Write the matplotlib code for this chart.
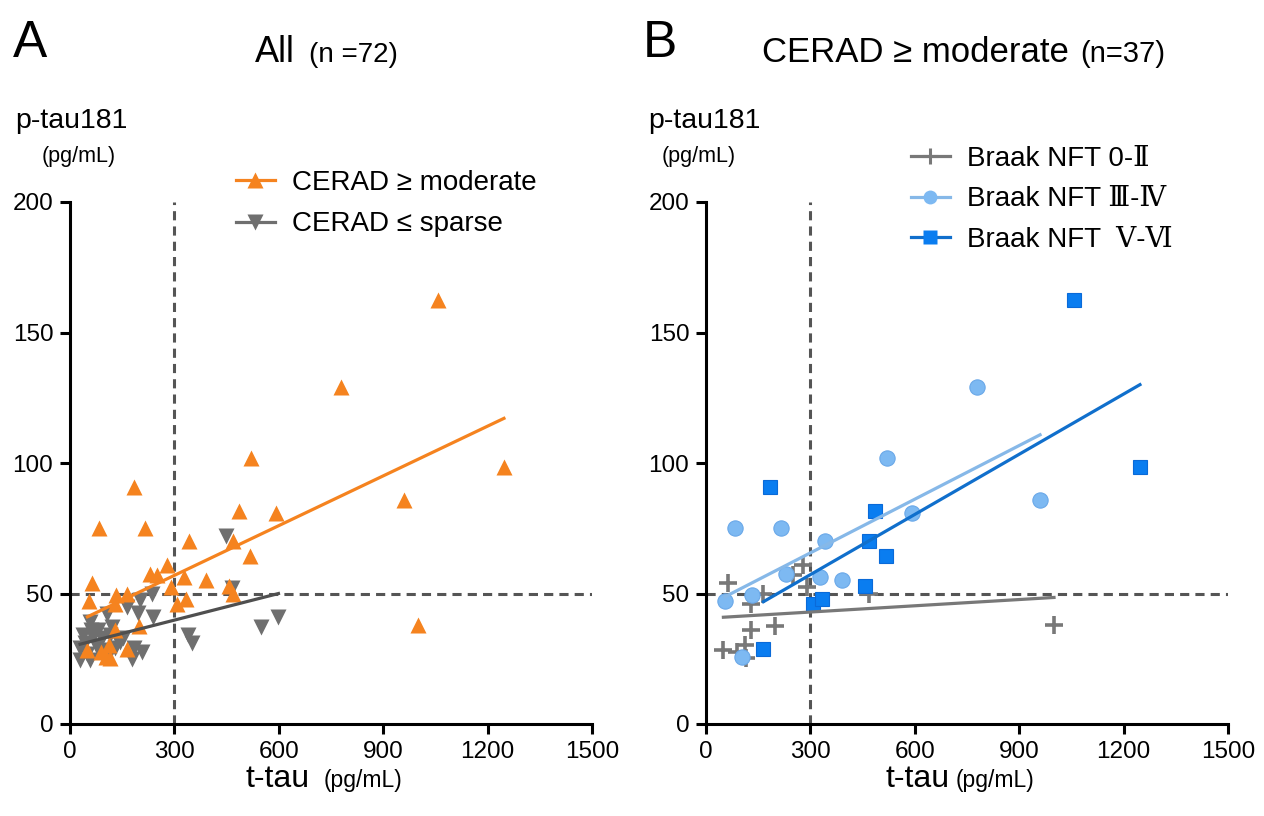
import numpy as np
import matplotlib.pyplot as plt
from matplotlib.lines import Line2D

plt.rcParams['font.family'] = ['Liberation Sans', 'DejaVu Serif']

# CERAD >= moderate, split by Braak NFT stage (t-tau, p-tau181 in pg/mL)
b02_x = [64, 129, 165, 280, 251, 289, 467, 129, 198, 50, 88, 112, 115, 1000]
b02_y = [54, 46, 50, 61, 57, 52.6, 50, 36, 37.5, 28.4, 27.7, 30.3, 25.2, 38]

b34_x = [55, 83, 103, 131, 215, 230, 328, 342, 390, 519, 591, 778, 960]
b34_y = [47, 75, 25.5, 49.5, 75, 57.5, 56.5, 70, 55, 102, 81, 129, 86]

b56_x = [165, 184, 308, 332, 457, 469, 486, 517, 1057, 1247]
b56_y = [28.6, 90.7, 46, 47.8, 52.9, 70.2, 81.6, 64.4, 162.5, 98.4]

# CERAD <= sparse
sparse_x = [448, 465, 599, 548, 340, 350, 235, 201, 163, 196, 239, 105, 57, 38,
            67, 91, 115, 144, 29, 77, 96, 29, 57, 177, 206,
            139, 153, 43, 60, 120, 80, 130, 185, 48, 110]
sparse_y = [72, 52, 41, 37, 34, 31, 50, 47.5, 45, 42.4, 41, 42, 39, 34,
            33.5, 33, 34, 31.5, 29, 29.6, 28.4, 24.5, 24.5, 25, 27.7,
            32, 33, 31, 36, 37, 36, 29, 29, 27, 26]

mod_x = b02_x + b34_x + b56_x
mod_y = b02_y + b34_y + b56_y

xticks = [0, 300, 600, 900, 1200, 1500]
yticks = [0, 50, 100, 150, 200]

orange = '#F5831F'
grey_tri = '#6F6F6F'
grey_lineA = '#4F4F4F'
grey_cross = '#787878'
lblue = '#7DB9F2'
lblue_line = '#86B8E8'
blue = '#0A7DF0'
blue_line = '#106FCC'
dash_col = '#555555'

W, H = 1264, 816
fig = plt.figure(figsize=(W / 100, H / 100), dpi=100)


def fx(x):
    return x / W


def fy(y):
    return 1 - y / H


axA = fig.add_axes([fx(70), fy(724), 522 / W, 522 / H])
axB = fig.add_axes([fx(706), fy(724), 522 / W, 522 / H])


def style(ax):
    for s in ['top', 'right']:
        ax.spines[s].set_visible(False)
    for s in ['left', 'bottom']:
        ax.spines[s].set_linewidth(2.2)
    ax.set_xlim(0, 1500)
    ax.set_ylim(0, 200)
    ax.set_xticks(xticks)
    ax.set_yticks(yticks)
    ax.tick_params(width=2.2, length=7, labelsize=17.5, pad=5)
    ax.axvline(300, color=dash_col, lw=2.2, ls=(0, (3, 2)), zorder=1)
    ax.axhline(50, color=dash_col, lw=2.2, ls=(0, (3, 2)), zorder=1)


def fit_line(ax, x, y, color):
    k, b = np.polyfit(x, y, 1)
    xs = np.array([min(x), max(x)])
    ax.plot(xs, k * xs + b, color=color, lw=2.3, zorder=4)


style(axA)
style(axB)

# panel A
axA.plot(sparse_x, sparse_y, 'v', color=grey_tri, ms=11.5, mec='none', zorder=2, clip_on=False)
axA.plot(mod_x, mod_y, '^', color=orange, ms=11.5, mec='none', zorder=3, clip_on=False)
fit_line(axA, mod_x, mod_y, orange)
fit_line(axA, sparse_x, sparse_y, grey_lineA)

hA = [Line2D([], [], color=orange, marker='^', ms=11, lw=2.3, mec='none'),
      Line2D([], [], color=grey_tri, marker='v', ms=11, lw=2.3, mec='none')]
axA.legend(hA, ['CERAD ≥ moderate', 'CERAD ≤ sparse'], loc='upper left',
           bbox_to_anchor=(fx(236), fy(170)), bbox_transform=fig.transFigure,
           frameon=False, fontsize=20, handlelength=1.4, handletextpad=0.6,
           labelspacing=0.55, borderpad=0, borderaxespad=0)

# panel B
axB.plot(b02_x, b02_y, '+', color=grey_cross, ms=13, mew=2.6, zorder=2, clip_on=False)
axB.plot(b34_x, b34_y, 'o', color=lblue, ms=11, mec='#6AA8E8', mew=0.8, zorder=3, clip_on=False)
axB.plot(b56_x, b56_y, 's', color=blue, ms=10.5, mec='#0A6AD8', mew=0.8, zorder=3, clip_on=False)
fit_line(axB, b02_x, b02_y, grey_cross)
fit_line(axB, b34_x, b34_y, lblue_line)
fit_line(axB, b56_x, b56_y, blue_line)

hB = [Line2D([], [], color=grey_cross, marker='+', ms=11, mew=2.2, lw=2.3),
      Line2D([], [], color=lblue_line, marker='o', ms=10, mfc=lblue, mec='none', lw=2.3),
      Line2D([], [], color=blue_line, marker='s', ms=9.5, mfc=blue, mec='none', lw=2.3)]
axB.legend(hB, ['Braak NFT 0-Ⅱ', 'Braak NFT Ⅲ-Ⅳ', 'Braak NFT  Ⅴ-Ⅵ'], loc='upper left',
           bbox_to_anchor=(fx(911), fy(146)), bbox_transform=fig.transFigure,
           frameon=False, fontsize=20, handlelength=1.4, handletextpad=0.6,
           labelspacing=0.52, borderpad=0, borderaxespad=0)

# titles and labels
fig.text(fx(13), fy(57), 'A', fontsize=37, va='baseline')
fig.text(fx(643), fy(57), 'B', fontsize=37, va='baseline')
fig.text(fx(255), fy(62), 'All', fontsize=26, va='baseline')
fig.text(fx(309), fy(62), '(n =72)', fontsize=20, va='baseline')
fig.text(fx(762), fy(62), 'CERAD ≥ moderate', fontsize=25, va='baseline')
fig.text(fx(1080), fy(62), '(n=37)', fontsize=21, va='baseline')

fig.text(fx(15), fy(128), 'p-tau181', fontsize=20.5, va='baseline')
fig.text(fx(42), fy(162), '(pg/mL)', fontsize=15.5, va='baseline')
fig.text(fx(648), fy(128), 'p-tau181', fontsize=20.5, va='baseline')
fig.text(fx(662), fy(162), '(pg/mL)', fontsize=15.5, va='baseline')

fig.text(fx(245), fy(787), 't-tau', fontsize=23, va='baseline')
fig.text(fx(324), fy(787), '(pg/mL)', fontsize=16.5, va='baseline')
fig.text(fx(886), fy(787), 't-tau', fontsize=23, va='baseline')
fig.text(fx(956), fy(787), '(pg/mL)', fontsize=16.5, va='baseline')

fig.savefig('out.png', dpi=100)
